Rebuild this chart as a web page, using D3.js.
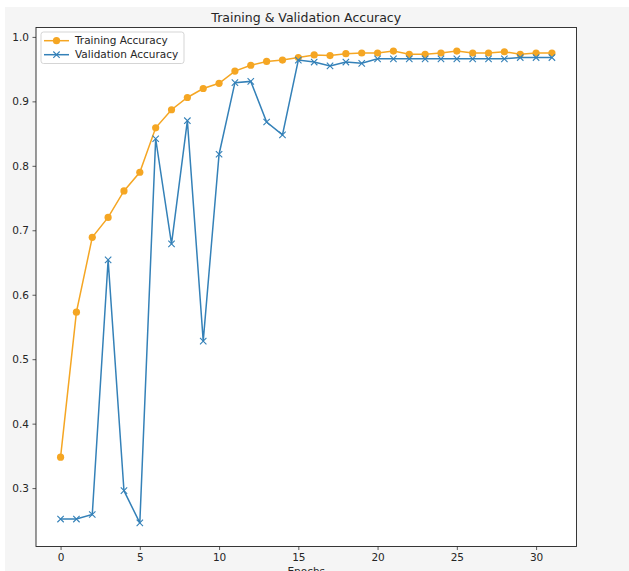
<!DOCTYPE html>
<html><head><meta charset="utf-8">
<script src="https://cdn.jsdelivr.net/npm/d3@7"></script>
<style>body{margin:0;background:#fff}svg{display:block}text{font-family:"DejaVu Sans",sans-serif;fill:#262626}</style>
</head><body><svg id="c" width="629" height="571"></svg>
<script>
const epochs = d3.range(0, 32);
const trainAcc = [0.348,0.573,0.689,0.720,0.761,0.790,0.859,0.887,0.906,0.920,0.928,0.947,0.956,0.962,0.964,0.968,0.972,0.971,0.974,0.975,0.975,0.978,0.973,0.973,0.975,0.978,0.975,0.975,0.977,0.973,0.975,0.975];
const valAcc = [0.252,0.252,0.259,0.654,0.296,0.246,0.842,0.679,0.870,0.528,0.818,0.929,0.931,0.868,0.848,0.964,0.961,0.955,0.961,0.959,0.966,0.966,0.966,0.966,0.966,0.966,0.966,0.966,0.966,0.968,0.968,0.968];
const xTicks = [0,5,10,15,20,25,30];
const yTicks = [0.3,0.4,0.5,0.6,0.7,0.8,0.9,1.0];
const seriesNames = ["Training Accuracy","Validation Accuracy"];
const colors = ["#f5a623","#3481b8"];

const svg = d3.select("#c");
svg.append("rect").attr("x",5).attr("y",7).attr("width",624).attr("height",564).attr("fill","#f5f5f5");
const L=36,R=576.5,T=27.5,B=546.5;
svg.append("rect").attr("x",L).attr("y",T).attr("width",R-L).attr("height",B-T).attr("fill","#fff");

const allV = trainAcc.concat(valAcc);
const ymin=d3.min(allV), ymax=d3.max(allV), ym=(ymax-ymin)*0.05;
const x = d3.scaleLinear().domain([-1.55, 32.55]).range([L,R]);
const y = d3.scaleLinear().domain([ymin-ym, ymax+ym]).range([B,T]);

const xa = svg.append("g").attr("transform",`translate(0,${B})`)
  .call(d3.axisBottom(x).tickValues(xTicks).tickFormat(d3.format("d")).tickSize(3.5).tickPadding(3.5).tickSizeOuter(0));
const ya = svg.append("g").attr("transform",`translate(${L},0)`)
  .call(d3.axisLeft(y).tickValues(yTicks).tickFormat(d3.format(".1f")).tickSize(3.5).tickPadding(3.5).tickSizeOuter(0));
[xa,ya].forEach(a=>{a.select(".domain").remove();a.selectAll("line").attr("stroke","#333").attr("stroke-width",0.8);
  a.selectAll("text").attr("font-size","10.5px").attr("font-family","DejaVu Sans").attr("fill","#262626");});

const line = d3.line().x((d,i)=>x(epochs[i])).y(d=>y(d));
const plot = svg.append("g");
plot.append("path").datum(trainAcc).attr("d",line).attr("fill","none").attr("stroke",colors[0]).attr("stroke-width",1.5);
plot.selectAll(".tm").data(trainAcc).enter().append("circle").attr("cx",(d,i)=>x(epochs[i])).attr("cy",d=>y(d)).attr("r",3.6).attr("fill",colors[0]);
plot.append("path").datum(valAcc).attr("d",line).attr("fill","none").attr("stroke",colors[1]).attr("stroke-width",1.5);
const xm = (g,cx,cy,s)=>g.append("path").attr("d",`M${cx-s},${cy-s}L${cx+s},${cy+s}M${cx-s},${cy+s}L${cx+s},${cy-s}`).attr("stroke",colors[1]).attr("stroke-width",1.1).attr("fill","none");
valAcc.forEach((d,i)=>xm(plot,x(epochs[i]),y(d),3.2));

svg.append("rect").attr("x",L).attr("y",T).attr("width",R-L).attr("height",B-T).attr("fill","none").attr("stroke","#222").attr("stroke-width",0.9);

const lg = svg.append("g");
lg.append("rect").attr("x",41).attr("y",32).attr("width",143).attr("height",31.5).attr("rx",2.5).attr("fill","#fff").attr("fill-opacity",0.85).attr("stroke","#d0d0d0").attr("stroke-width",0.9);
seriesNames.forEach((n,i)=>{
  const yy = 40.7 + i*14;
  lg.append("line").attr("x1",44).attr("x2",69).attr("y1",yy).attr("y2",yy).attr("stroke",colors[i]).attr("stroke-width",1.5);
  if(i===0) lg.append("circle").attr("cx",56.5).attr("cy",yy).attr("r",3.6).attr("fill",colors[0]);
  else xm(lg,56.5,yy,3.2);
  lg.append("text").attr("x",75).attr("y",yy).attr("dy","0.36em").attr("font-size","10.5px").text(n);
});

svg.append("text").attr("x",(L+R)/2).attr("y",22).attr("text-anchor","middle").attr("font-size","12.5px").text("Training & Validation Accuracy");
svg.append("text").attr("x",(L+R)/2).attr("y",574.5).attr("text-anchor","middle").attr("font-size","10.5px").text("Epochs");
</script></body></html>
